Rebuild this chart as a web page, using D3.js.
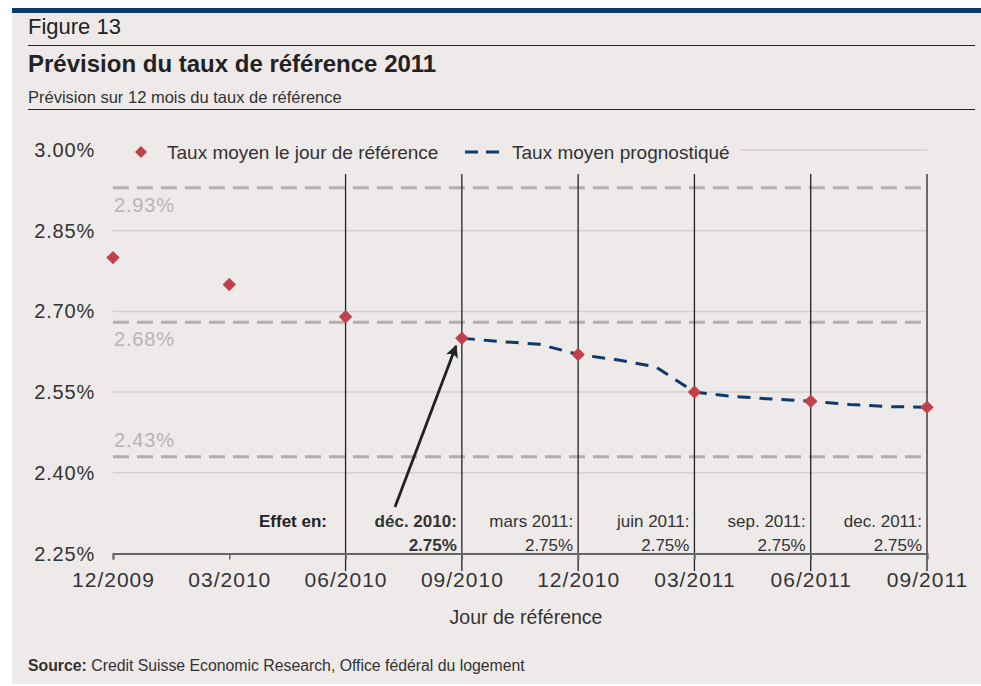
<!DOCTYPE html>
<html lang="fr">
<head>
<meta charset="UTF-8">
<title>Figure 13</title>
<script src="https://d3js.org/d3.v7.min.js"></script>
<style>
  body { margin: 0; background: #fff; }
  svg { display: block; font-family: "Liberation Sans", Arial, sans-serif; }
</style>
</head>
<body>
<div id="chart"></div>
<script>
// Données
const quarterLabels = ["12/2009", "03/2010", "06/2010", "09/2010", "12/2010", "03/2011", "06/2011", "09/2011"];
const quarterMonths = [0, 3, 6, 9, 12, 15, 18, 21];
const observedValues = [2.80, 2.75, 2.69, 2.65, 2.62, 2.55, 2.533, 2.522];
const forecastMonths = [9, 10, 11, 12, 13, 14, 15, 16, 17, 18, 19, 20, 21];
const forecastValues = [2.65, 2.644, 2.639, 2.62, 2.61, 2.597, 2.55, 2.542, 2.537, 2.533, 2.527, 2.523, 2.522];
const yTicks = [2.25, 2.40, 2.55, 2.70, 2.85, 3.00];
const refLevels = [2.93, 2.68, 2.43];
const effetMonths = [9, 12, 15, 18, 21];
const effetLabels = ["déc. 2010:", "mars 2011:", "juin 2011:", "sep. 2011:", "dec. 2011:"];
const effetRates = ["2.75%", "2.75%", "2.75%", "2.75%", "2.75%"];
const vLineMonths = [6, 9, 12, 15, 18, 21];

const W = 981, H = 686;
const navy = "#0b3a6b", red = "#c1414b", refGray = "#b4afab";

const svg = d3.select("#chart").append("svg")
  .attr("width", W).attr("height", H);

// fond + bandeau
svg.append("rect").attr("x", 12).attr("y", 8).attr("width", W - 12).attr("height", 676).attr("fill", "#eeeaea");
svg.append("rect").attr("x", 12).attr("y", 8).attr("width", W - 12).attr("height", 5).attr("fill", navy);

svg.append("text").attr("x", 28).attr("y", 34).attr("font-size", 22).attr("fill", "#222").text("Figure 13");
svg.append("line").attr("x1", 28).attr("x2", 975).attr("y1", 45.5).attr("y2", 45.5).attr("stroke", "#222").attr("stroke-width", 1);
svg.append("text").attr("x", 28).attr("y", 72).attr("font-size", 24).attr("font-weight", "bold").attr("fill", "#222")
  .text("Prévision du taux de référence 2011");
svg.append("text").attr("x", 28).attr("y", 103).attr("font-size", 16.5).attr("fill", "#333")
  .text("Prévision sur 12 mois du taux de référence");
svg.append("line").attr("x1", 28).attr("x2", 975).attr("y1", 109.5).attr("y2", 109.5).attr("stroke", "#222").attr("stroke-width", 1);

// échelles
const x = d3.scaleLinear().domain([0, 21]).range([113, 927]);
const y = d3.scaleLinear().domain([2.25, 3.00]).range([553.5, 150]);

// grille horizontale
svg.append("g").selectAll("line").data(yTicks.filter(d => d > 2.25)).join("line")
  .attr("x1", d => d === 3.00 ? 740 : 113).attr("x2", 927)
  .attr("y1", d => y(d)).attr("y2", d => y(d))
  .attr("stroke", "#d3cfcd").attr("stroke-width", 1.5);

// axe Y
svg.append("g").selectAll("text").data(yTicks).join("text")
  .attr("x", 95).attr("y", d => y(d) + 7).attr("text-anchor", "end")
  .attr("font-size", 20).attr("letter-spacing", 0.8).attr("fill", "#333")
  .text(d => d.toFixed(2) + "%");

// niveaux de référence
const refG = svg.append("g");
refG.selectAll("line").data(refLevels).join("line")
  .attr("x1", 113).attr("x2", 927)
  .attr("y1", d => y(d)).attr("y2", d => y(d))
  .attr("stroke", refGray).attr("stroke-width", 3).attr("stroke-dasharray", "16 8");
refG.selectAll("text").data(refLevels).join("text")
  .attr("x", 114).attr("y", (d, i) => i === 2 ? y(d) - 10 : y(d) + 24)
  .attr("font-size", 20).attr("letter-spacing", 0.8).attr("fill", "#b9b4b1")
  .text(d => d.toFixed(2) + "%");

// lignes verticales
svg.append("g").selectAll("line").data(vLineMonths).join("line")
  .attr("x1", d => x(d)).attr("x2", d => x(d))
  .attr("y1", 174).attr("y2", 571)
  .attr("stroke", "#222").attr("stroke-width", 1.3);

// axe X
const xAxis = d3.axisBottom(x).tickValues(quarterMonths)
  .tickFormat((d, i) => quarterLabels[i]).tickSize(6).tickPadding(13);
const gx = svg.append("g").attr("transform", `translate(0,${y(2.25)})`).call(xAxis);
gx.select(".domain").attr("stroke", "#666").attr("stroke-width", 2);
gx.selectAll(".tick line").attr("stroke", "#666").attr("stroke-width", 1.5);
gx.selectAll(".tick text").attr("font-size", 21).attr("letter-spacing", 1).attr("fill", "#333")
  .attr("font-family", "Liberation Sans, Arial, sans-serif");
svg.append("text").attr("x", 526).attr("y", 624).attr("text-anchor", "middle")
  .attr("font-size", 19.5).attr("fill", "#333").text("Jour de référence");

// légende (fond qui masque la grille)
svg.append("rect").attr("x", 113).attr("y", 130).attr("width", 625).attr("height", 40).attr("fill", "#eeeaea");
svg.append("path").attr("d", d3.symbol(d3.symbolSquare, 72)())
  .attr("transform", "translate(141,152) rotate(45)").attr("fill", red);
svg.append("text").attr("x", 167).attr("y", 159).attr("font-size", 19).attr("fill", "#333")
  .text("Taux moyen le jour de référence");
svg.append("line").attr("x1", 465).attr("x2", 506).attr("y1", 152).attr("y2", 152)
  .attr("stroke", navy).attr("stroke-width", 3).attr("stroke-dasharray", "13 8");
svg.append("text").attr("x", 512).attr("y", 159).attr("font-size", 19).attr("fill", "#333")
  .text("Taux moyen prognostiqué");

// ligne prévisionnelle
const line = d3.line().x((d, i) => x(forecastMonths[i])).y(d => y(d));
svg.append("path").datum(forecastValues).attr("d", line)
  .attr("fill", "none").attr("stroke", navy).attr("stroke-width", 3)
  .attr("stroke-dasharray", "13 9");

// points observés
svg.append("g").selectAll("path").data(observedValues).join("path")
  .attr("d", d3.symbol(d3.symbolSquare, 90)())
  .attr("transform", (d, i) => `translate(${x(quarterMonths[i])},${y(d)}) rotate(45)`)
  .attr("fill", red);

// annotations "Effet en"
svg.append("text").attr("x", 327).attr("y", 527).attr("text-anchor", "end")
  .attr("font-size", 17).attr("font-weight", "bold").attr("fill", "#222").text("Effet en:");
const eff = svg.append("g");
eff.selectAll("text.lab").data(effetLabels).join("text").attr("class", "lab")
  .attr("x", (d, i) => x(effetMonths[i]) - 5).attr("y", 527).attr("text-anchor", "end")
  .attr("font-size", 17).attr("fill", "#333")
  .attr("font-weight", (d, i) => i === 0 ? "bold" : "normal")
  .text(d => d);
eff.selectAll("text.rate").data(effetRates).join("text").attr("class", "rate")
  .attr("x", (d, i) => x(effetMonths[i]) - 5).attr("y", 551).attr("text-anchor", "end")
  .attr("font-size", 17).attr("fill", "#333")
  .attr("font-weight", (d, i) => i === 0 ? "bold" : "normal")
  .text(d => d);

// flèche
svg.append("defs").append("marker").attr("id", "arrow")
  .attr("viewBox", "0 0 10 10").attr("refX", 9).attr("refY", 5)
  .attr("markerWidth", 4.5).attr("markerHeight", 4.5).attr("orient", "auto")
  .append("path").attr("d", "M0,0 L10,5 L0,10 L2.5,5 z").attr("fill", "#222");
svg.append("line").attr("x1", 395).attr("y1", 507).attr("x2", 456).attr("y2", 346)
  .attr("stroke", "#222").attr("stroke-width", 2.8).attr("marker-end", "url(#arrow)");

// source
const src = svg.append("text").attr("x", 28).attr("y", 671).attr("font-size", 15.8).attr("fill", "#333");
src.append("tspan").attr("font-weight", "bold").text("Source:");
src.append("tspan").text(" Credit Suisse Economic Research, Office fédéral du logement");
</script>
</body>
</html>
